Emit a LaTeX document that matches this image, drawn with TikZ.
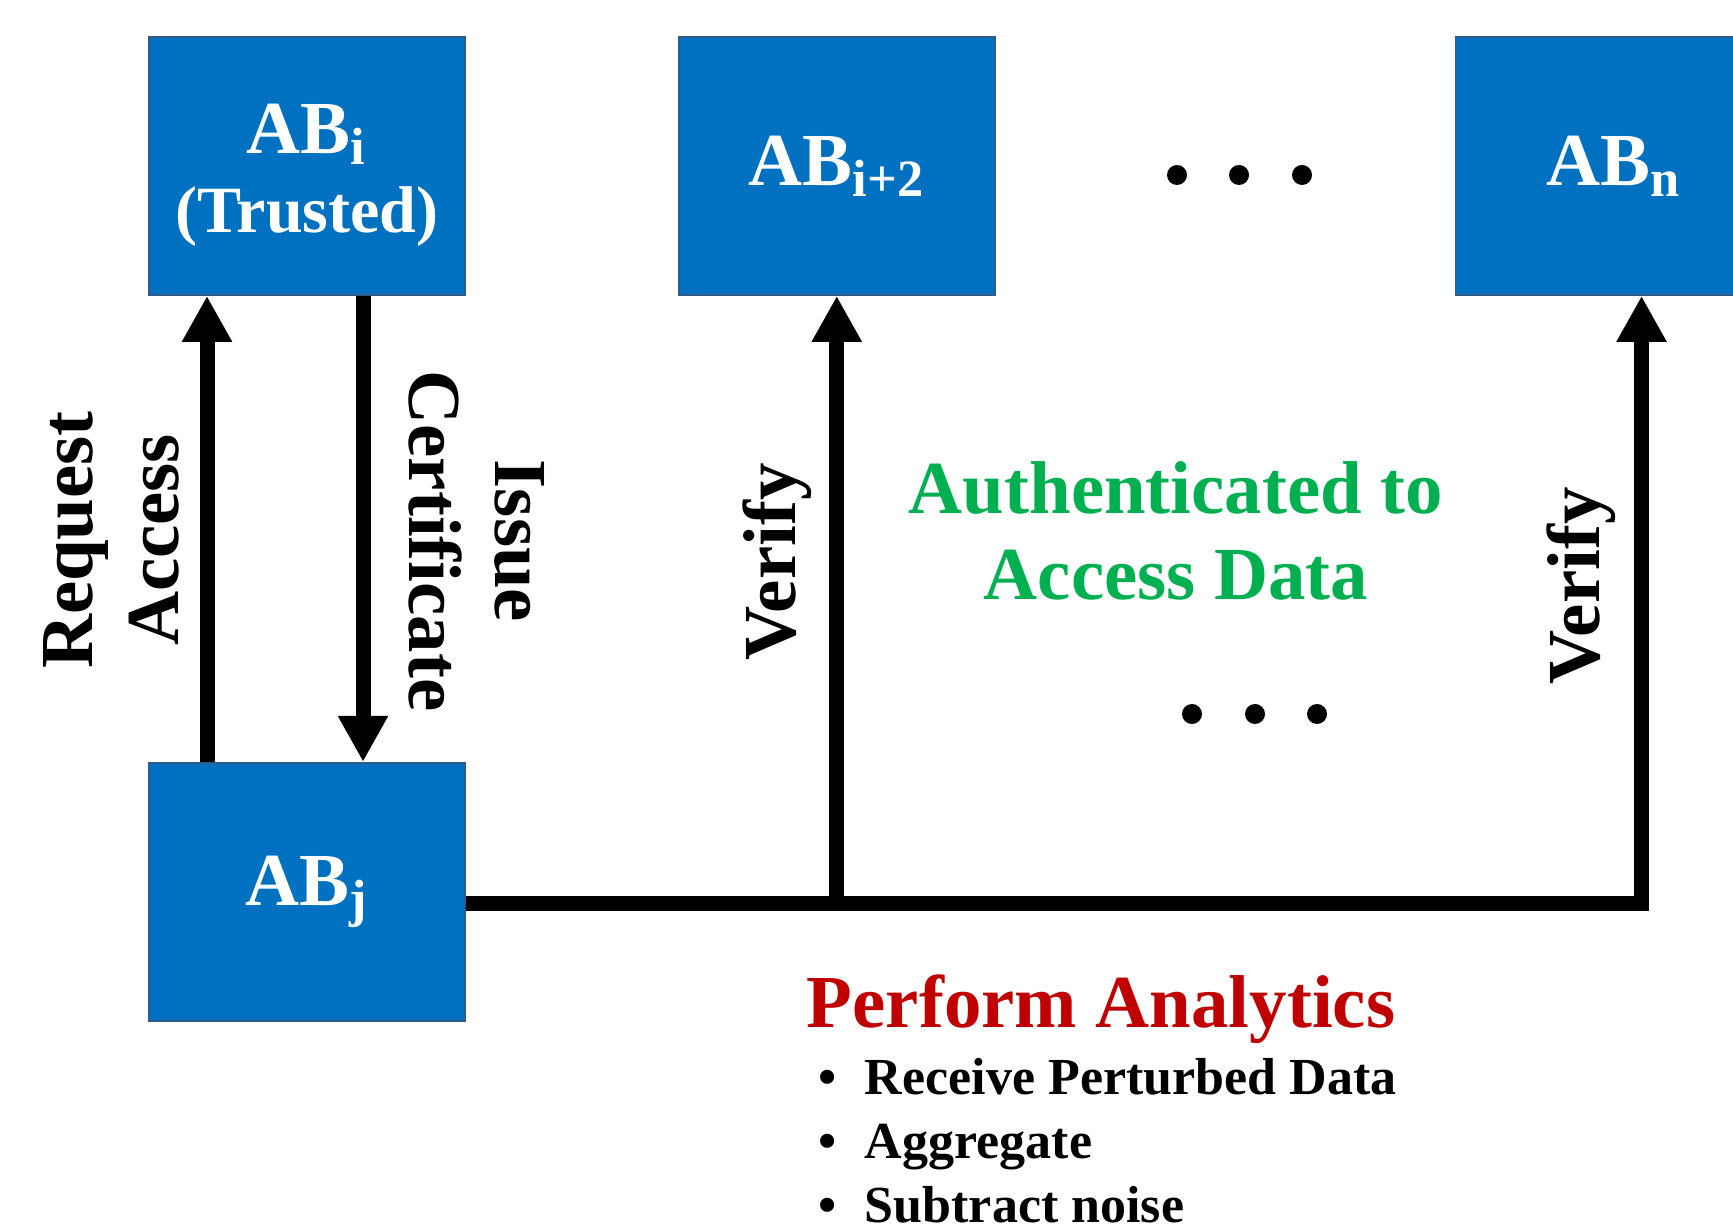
\documentclass[tikz,border=0pt]{standalone}
\usepackage{fontspec}
\setmainfont{Liberation Serif}
\usepackage{xcolor}
\usetikzlibrary{arrows.meta, positioning}

\definecolor{abblue}{HTML}{0070C0}
\definecolor{abedge}{HTML}{2F5A8A}
\definecolor{authgreen}{HTML}{00B050}
\definecolor{perfred}{HTML}{C00000}

\newcommand{\bigtxt}{\fontsize{21.3}{24.5}\selectfont\bfseries}

\begin{document}
\begin{tikzpicture}[
    box/.style={rectangle, draw=abedge, line width=0.5pt, fill=abblue, text=white, minimum width=3.16cm, minimum height=2.58cm, inner sep=0pt, align=center, font=\fontsize{21.3}{22.5}\selectfont\bfseries},
    arrow/.style={-{Triangle[length=0.46cm, width=0.47cm]}, line width=0.15cm},
    lbl/.style={align=center, font=\bigtxt},
    item/.style={anchor=base west, inner sep=0pt, font=\fontsize{14.8}{18}\selectfont\bfseries},
    node distance=2.12cm
]
    \useasboundingbox (0,0) rectangle (17.33,12.30);
    \clip (0,0) rectangle (17.33,12.30);

    % Blockchain boxes
    \node[box] (abi) at (3.07,10.64) {\rule{0pt}{0.68cm}AB\textsubscript{i}\\{\fontsize{18.8}{22.5}\selectfont (Trusted)}};
    \node[box, right=of abi] (abii) {AB\textsubscript{i+2}};
    \node[box, right=4.59cm of abii] (abn) {AB\textsubscript{n}};
    \node[box, below=4.66cm of abi] (abj) {AB\textsubscript{j}};

    % Certificate exchange
    \draw[arrow] ([xshift=-1cm]abj.north) -- ([xshift=-1cm]abi.south);
    \draw[arrow] ([xshift=0.56cm]abi.south) -- ([xshift=0.56cm]abj.north);
    \node[lbl, rotate=90] (req) at (1.11,6.90) {Request\\Access};
    \node[lbl, rotate=-90] (iss) at (4.77,6.89) {Issue\\Certificate};

    % Verification
    \coordinate (bus) at ([yshift=-0.12cm]abj.east);
    \draw[arrow] (bus) -| ([xshift=0.28cm]abn.south);
    \draw[arrow] (bus -| abii.south) -- (abii.south);
    \node[lbl, rotate=90] (ver1) at (7.77,6.68) {Verify};
    \node[lbl, rotate=90] (ver2) at (15.81,6.44) {Verify};
    \node[lbl, text=authgreen] (auth) at (11.76,6.99) {Authenticated to\\Access Data};

    % Ellipsis dots
    \foreach \x in {11.77,12.39,13.02} \fill (\x,10.55) circle (0.1);
    \foreach \x in {11.92,12.55,13.17} \fill (\x,5.16) circle (0.1);

    % Analytics
    \node[lbl, text=perfred, anchor=base] (perf) at (11.01,2.03) {Perform Analytics};
    \foreach \txt [count=\k] in {Receive Perturbed Data, Aggregate, Subtract noise}
        \node[item] (item\k) at (8.18,{1.36-0.64*(\k-1)}) {\textbullet\hspace{0.28cm}\txt};
\end{tikzpicture}
\end{document}
